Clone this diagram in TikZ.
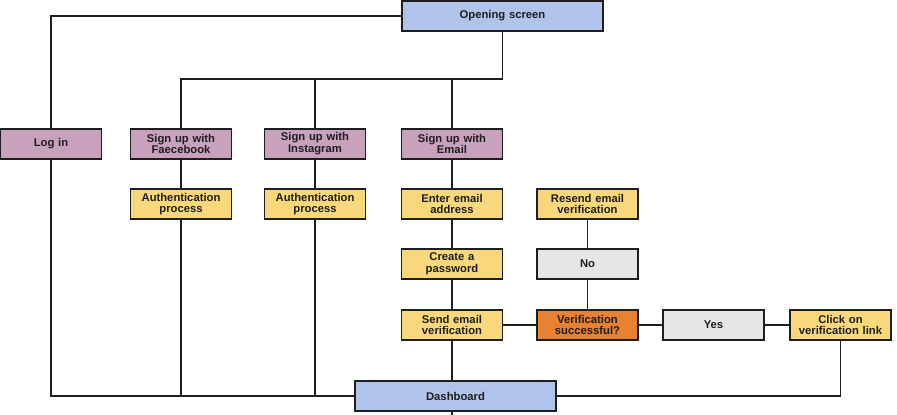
\documentclass[tikz,border=0pt]{standalone}
\usepackage{fontspec}
\setmainfont{Liberation Sans}
\usepackage{tikz}

\definecolor{screenblue}{RGB}{175,196,232}
\definecolor{optpurple}{RGB}{200,162,188}
\definecolor{stepyellow}{RGB}{248,216,122}
\definecolor{askorange}{RGB}{232,130,50}
\definecolor{answergray}{RGB}{230,230,230}
\definecolor{edge}{RGB}{30,30,30}

\tikzset{
  box/.style={draw=edge,line width=1.3pt,minimum width=2.525cm,minimum height=0.75cm,
    inner sep=0pt,text width=2.45cm,align=center,text=edge,
    font=\fontsize{8}{8.4}\selectfont\bfseries},
  widebox/.style={box,minimum width=5.025cm,text width=4.9cm,fill=screenblue},
  option/.style={box,fill=optpurple},
  stepbox/.style={box,fill=stepyellow},
  askbox/.style={box,fill=askorange},
  answer/.style={box,fill=answergray},
  link/.style={draw=edge,line width=1.3pt}
}

\begin{document}
\begin{tikzpicture}[x=0.025cm,y=-0.025cm]
\useasboundingbox (0,0) rectangle (897,415);

\node[widebox] (open) at (502.5,16) {Opening screen};
\node[option] (login) at (51,144) {Log in};
\node[option] (fb) at (181,144) {Sign up with\\Faecebook};
\node[option] (ig) at (315,144) {Sign up with\\Instagram};
\node[option] (email) at (452,144) {Sign up with\\Email};
\node[stepbox] (authfb) at (181,204) {Authentication\\process};
\node[stepbox] (authig) at (315,204) {Authentication\\process};
\node[stepbox] (enter) at (452,204) {Enter email\\address};
\node[stepbox] (resend) at (587.5,204) {Resend email\\verification};
\node[stepbox] (pass) at (452,264) {Create a\\password};
\node[answer] (no) at (587.5,264) {No};
\node[stepbox] (send) at (452,325) {Send email\\verification};
\node[askbox] (verif) at (587.5,325) {Verification\\successful?};
\node[answer] (yes) at (713.5,325) {Yes};
\node[stepbox] (click) at (840.5,325) {Click on\\verification link};
\node[widebox] (dash) at (455.5,396) {Dashboard};
\coordinate (fork) at (502.5,79);
\coordinate (out) at (452,416);

\draw[link] (open.west) -| (login.north);
\draw[link] (open.south) -- (fork) -| (fb.north);
\draw[link] (fork) -| (ig.north);
\draw[link] (fork) -| (email.north);
\draw[link] (fb) -- (authfb);
\draw[link] (ig) -- (authig);
\draw[link] (email) -- (enter) -- (pass) -- (send);
\draw[link] (resend) -- (no) -- (verif);
\draw[link] (send) -- (verif) -- (yes) -- (click);
\draw[link] (login.south) |- (dash.west);
\draw[link] (authfb.south) -- (authfb.south |- dash.west);
\draw[link] (authig.south) -- (authig.south |- dash.west);
\draw[link] (send.south) -- (send.south |- dash.north);
\draw[link] (click.south) |- (dash.east);
\draw[link] (send.south |- dash.south) -- (out);
\end{tikzpicture}
\end{document}
